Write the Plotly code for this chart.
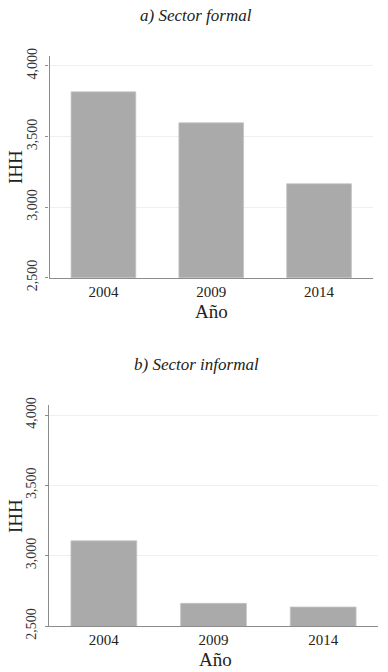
import plotly.graph_objects as go

years = ["2004", "2009", "2014"]
formal = [3816, 3597, 3165]
informal = [3106, 2661, 2635]
y_ticks = [2500, 3000, 3500, 4000]
y_ticktext = ["2,500", "3,000", "3,500", "4,000"]

W, H = 388, 672
SERIF = "Liberation Serif, Times New Roman, serif"
BAR = "#aaaaaa"
AX = "#8c8c8c"

fig = go.Figure()
fig.add_trace(go.Bar(x=years, y=formal, width=0.6, marker=dict(color=BAR, line=dict(color="#c4c4c4", width=0.8)),
                     xaxis="x", yaxis="y", showlegend=False, hoverinfo="skip"))
fig.add_trace(go.Bar(x=years, y=informal, width=0.6, marker=dict(color=BAR, line=dict(color="#c4c4c4", width=0.8)),
                     xaxis="x2", yaxis="y2", showlegend=False, hoverinfo="skip"))

def px_x(v):
    return v / W

def px_y(v):
    return 1 - v / H

common_x = dict(showgrid=False, showline=True, linecolor=AX, linewidth=1.2, ticks="",
                tickfont=dict(family=SERIF, size=15, color="#222"), range=[-0.5, 2.5],
                type="category", fixedrange=True, automargin=False)
common_y = dict(range=[2500, 4070], tickvals=y_ticks, ticktext=y_ticktext, tickangle=-90,
                showgrid=True, gridcolor="#efefef", gridwidth=1, showline=True, linecolor=AX, linewidth=1.2,
                ticks="outside", ticklen=3, tickcolor=AX, tickfont=dict(family=SERIF, size=14, color="#333"),
                ticklabelstandoff=3, zeroline=False, fixedrange=True, automargin=False)

fig.update_layout(
    width=W, height=H, margin=dict(l=0, r=0, t=0, b=0, pad=0, autoexpand=False),
    plot_bgcolor="white", paper_bgcolor="white", bargap=0.4,
    xaxis=dict(domain=[px_x(49.5), px_x(373)], anchor="y", **common_x),
    yaxis=dict(domain=[px_y(277.7), px_y(56)], anchor="x", **common_y),
    xaxis2=dict(domain=[px_x(49), px_x(378)], anchor="y2", **common_x),
    yaxis2=dict(domain=[px_y(626), px_y(405.3)], anchor="x2", **common_y),
)

ann = [
    dict(text="<i>a) Sector formal</i>", x=px_x(196), y=px_y(15)),
    dict(text="<i>b) Sector informal</i>", x=px_x(196), y=px_y(364)),
]
for a in ann:
    fig.add_annotation(text=a["text"], x=a["x"], y=a["y"], xref="paper", yref="paper",
                       showarrow=False, xanchor="center", yanchor="middle",
                       font=dict(family=SERIF, size=17, color="#222"))

for yc, xc in [(311, 212), (659, 215)]:
    fig.add_annotation(text="Año", x=px_x(xc), y=px_y(yc), xref="paper", yref="paper", showarrow=False,
                       xanchor="center", yanchor="middle", borderpad=0,
                       font=dict(family=SERIF, size=19, color="#222"))
for yc in [167, 516]:
    fig.add_annotation(text="IHH", x=px_x(15), y=px_y(yc), xref="paper", yref="paper", showarrow=False,
                       textangle=-90, xanchor="center", yanchor="middle",
                       font=dict(family=SERIF, size=19, color="#222"))

fig.write_html(
    "out.html",
    config={"displayModeBar": False},
    post_script="document.body.style.margin='0';document.body.style.overflow='hidden';",
)
